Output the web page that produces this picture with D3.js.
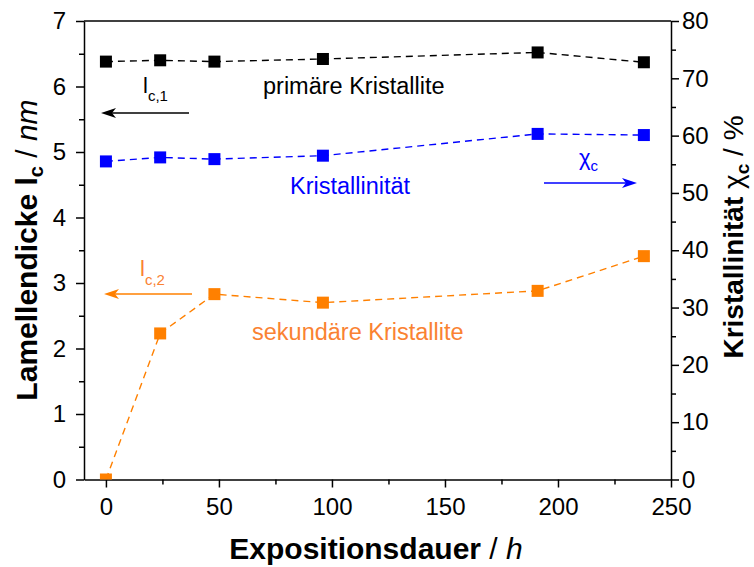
<!DOCTYPE html>
<html>
<head>
<meta charset="utf-8">
<script src="https://cdn.jsdelivr.net/npm/d3@7"></script>
<style>
  body { margin: 0; background: #fff; }
  svg { display: block; font-family: "Liberation Sans", Arial, sans-serif; }
</style>
</head>
<body>
<svg id="chart" width="754" height="567"></svg>
<script>
// Exposure time (h)
const hours = [0, 24, 48, 96, 191, 238];
// Lamellar thickness of primary crystallites, l_c,1 (nm)
const primaryLc = [6.38, 6.40, 6.38, 6.42, 6.52, 6.37];
// Lamellar thickness of secondary crystallites, l_c,2 (nm)
const secondaryLc = [0.0, 2.23, 2.83, 2.70, 2.88, 3.41];
// Crystallinity chi_c (%)
const crystallinity = [55.5, 56.2, 55.9, 56.5, 60.3, 60.1];

const xTicks = [0, 50, 100, 150, 200, 250];
const xMinorTicks = [25, 75, 125, 175, 225];
const leftTicks = [0, 1, 2, 3, 4, 5, 6, 7];
const leftMinorTicks = [0.5, 1.5, 2.5, 3.5, 4.5, 5.5, 6.5];
const rightTicks = [0, 10, 20, 30, 40, 50, 60, 70, 80];
const rightMinorTicks = [5, 15, 25, 35, 45, 55, 65, 75];

const BLACK = "#000000", BLUE = "#0000ff", ORANGE = "#ff8000", ORANGE_TEXT = "#fa8232";

const svg = d3.select("#chart");
const L = 84, R = 671, T = 21, B = 479.5;

const x = d3.scaleLinear().domain([-9.7, 250]).range([L, R]);
const yL = d3.scaleLinear().domain([0, 7]).range([B, T]);
const yR = d3.scaleLinear().domain([0, 80]).range([B, T]);

svg.append("defs").append("clipPath").attr("id", "plotClip")
  .append("rect").attr("x", L).attr("y", T).attr("width", R - L).attr("height", B - T);

// Axes
const fmt = d => String(d);
function styleAxis(g) {
  g.selectAll(".domain").attr("stroke", "#000").attr("stroke-width", 1.5);
  g.selectAll(".tick line").attr("stroke", "#000").attr("stroke-width", 1.5);
  g.selectAll(".tick text").attr("font-size", 24).attr("fill", "#000")
    .attr("font-family", "'Liberation Sans', Arial, sans-serif");
}
function minor(g) {
  g.select(".domain").remove();
  g.selectAll("line").attr("stroke", "#000").attr("stroke-width", 1.5);
}

const xAxis = svg.append("g").attr("transform", `translate(0,${B})`)
  .call(d3.axisBottom(x).tickValues(xTicks).tickFormat(fmt).tickSize(8).tickSizeOuter(0).tickPadding(10));
styleAxis(xAxis);
svg.append("g").attr("transform", `translate(0,${B})`)
  .call(d3.axisBottom(x).tickValues(xMinorTicks).tickSize(5).tickSizeOuter(0).tickFormat(""))
  .call(minor);

const yAxisL = svg.append("g").attr("transform", `translate(${L},0)`)
  .call(d3.axisLeft(yL).tickValues(leftTicks).tickFormat(fmt).tickSize(8).tickSizeOuter(0).tickPadding(10));
styleAxis(yAxisL);
svg.append("g").attr("transform", `translate(${L},0)`)
  .call(d3.axisLeft(yL).tickValues(leftMinorTicks).tickSize(5).tickSizeOuter(0).tickFormat(""))
  .call(minor);

const yAxisR = svg.append("g").attr("transform", `translate(${R},0)`)
  .call(d3.axisRight(yR).tickValues(rightTicks).tickFormat(fmt).tickSize(8).tickSizeOuter(0).tickPadding(3));
styleAxis(yAxisR);
svg.append("g").attr("transform", `translate(${R},0)`)
  .call(d3.axisRight(yR).tickValues(rightMinorTicks).tickSize(5).tickSizeOuter(0).tickFormat(""))
  .call(minor);

// Top frame
svg.append("line").attr("x1", L).attr("x2", R).attr("y1", T).attr("y2", T)
  .attr("stroke", "#000").attr("stroke-width", 1.5);

// Series
const plot = svg.append("g").attr("clip-path", "url(#plotClip)");
function series(values, yScale, color) {
  const pts = hours.map((h, i) => [h, values[i]]);
  plot.append("path").datum(pts)
    .attr("fill", "none").attr("stroke", color).attr("stroke-width", 1.4)
    .attr("stroke-dasharray", "7,5")
    .attr("d", d3.line().x(d => x(d[0])).y(d => yScale(d[1])));
  const s = 12;
  plot.selectAll(null).data(pts).enter().append("rect")
    .attr("x", d => x(d[0]) - s / 2).attr("y", d => yScale(d[1]) - s / 2)
    .attr("width", s).attr("height", s).attr("fill", color);
}
series(primaryLc, yL, BLACK);
series(crystallinity, yR, BLUE);
series(secondaryLc, yL, ORANGE);

// Annotations
function arrow(x1, x2, y, color) {
  const dir = Math.sign(x2 - x1);
  svg.append("line").attr("x1", x1).attr("x2", x2 - dir * 10).attr("y1", y).attr("y2", y)
    .attr("stroke", color).attr("stroke-width", 1.6);
  svg.append("path")
    .attr("d", `M${x2},${y} L${x2 - dir * 15},${y - 5} L${x2 - dir * 11},${y} L${x2 - dir * 15},${y + 5} Z`)
    .attr("fill", color);
}
function subLabel(xPos, y, main, sub, color, subDy) {
  const t = svg.append("text").attr("x", xPos).attr("y", y).attr("fill", color).attr("font-size", 22);
  t.append("tspan").text(main);
  t.append("tspan").attr("font-size", 15).attr("dy", subDy).text(sub);
}

subLabel(143, 93, "l", "c,1", BLACK, 8);
arrow(189, 101, 113, BLACK);
svg.append("text").attr("x", 263).attr("y", 94).attr("font-size", 23.5).attr("fill", BLACK).text("primäre Kristallite");

svg.append("text").attr("x", 290).attr("y", 194).attr("font-size", 23.5).attr("fill", BLUE).text("Kristallinität");
subLabel(579, 165, "χ", "c", BLUE, 6);
arrow(544, 637, 183, BLUE);

subLabel(140, 276, "l", "c,2", ORANGE_TEXT, 9);
arrow(192, 104, 294, ORANGE);
svg.append("text").attr("x", 252).attr("y", 340).attr("font-size", 23.5).attr("fill", ORANGE_TEXT).text("sekundäre Kristallite");

// Axis titles
const xt = svg.append("text").attr("x", 376).attr("y", 559).attr("text-anchor", "middle")
  .attr("font-size", 30).attr("fill", "#000");
xt.append("tspan").attr("font-weight", "bold").text("Expositionsdauer");
xt.append("tspan").text(" / ");
xt.append("tspan").attr("font-style", "italic").text("h");

const ylt = svg.append("text").attr("transform", "translate(37,250) rotate(-90)")
  .attr("text-anchor", "middle").attr("font-size", 30).attr("fill", "#000");
ylt.append("tspan").attr("font-weight", "bold").text("Lamellendicke l");
ylt.append("tspan").attr("font-weight", "bold").attr("font-size", 20).attr("dy", 6).text("c");
ylt.append("tspan").attr("dy", -6).text(" / ");
ylt.append("tspan").attr("font-style", "italic").text("nm");

const yrt = svg.append("text").attr("transform", "translate(743,237) rotate(-90)")
  .attr("text-anchor", "middle").attr("font-size", 28).attr("fill", "#000");
yrt.append("tspan").attr("font-weight", "bold").text("Kristallinität ");
yrt.append("tspan").text("χ");
yrt.append("tspan").attr("font-weight", "bold").attr("font-size", 19).attr("dy", 6).text("c");
yrt.append("tspan").attr("dy", -6).text(" / %");
</script>
</body>
</html>
